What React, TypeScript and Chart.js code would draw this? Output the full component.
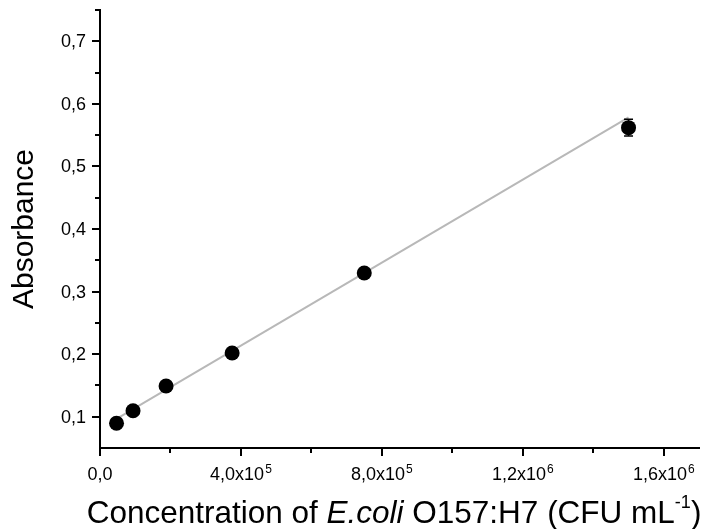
import React, { useEffect, useRef } from 'react';
import { Chart, registerables } from 'chart.js';

Chart.register(...registerables);

// ---- data ----
const concentrations = [46875, 93750, 187500, 375000, 750000, 1500000];
const absorbance = [0.0895, 0.1096, 0.149, 0.2018, 0.3297, 0.562];
const absorbanceErr = [0.004, 0.004, 0.005, 0.005, 0.006, 0.0135];

const fitX = [46875, 1500000];
const fitY = [0.0964, 0.5785];

const xMajorTicks = [0, 400000, 800000, 1200000, 1600000];
const xMinorTicks = [200000, 600000, 1000000, 1400000];
const xTickMantissa = ['0,0', '4,0x10', '8,0x10', '1,2x10', '1,6x10'];
const xTickExponent = ['', '5', '5', '6', '6'];

const yMajorTicks = [0.1, 0.2, 0.3, 0.4, 0.5, 0.6, 0.7];
const yMinorTicks = [0.15, 0.25, 0.35, 0.45, 0.55, 0.65, 0.75];
const yTickLabels = ['0,1', '0,2', '0,3', '0,4', '0,5', '0,6', '0,7'];

const yTitle = 'Absorbance';
const xTitleParts = [
  { text: 'Concentration of ', italic: false, sup: false },
  { text: 'E.coli', italic: true, sup: false },
  { text: ' O157:H7 (CFU mL', italic: false, sup: false },
  { text: '-1', italic: false, sup: true },
  { text: ')', italic: false, sup: false },
];

const FONT = '"Liberation Sans", Arial, Helvetica, sans-serif';
const TEXT = '#000';

const decorations = {
  id: 'decorations',
  afterDatasetsDraw(chart: any) {
    const ctx = chart.ctx;
    const xs = chart.scales.x;
    const ys = chart.scales.y;
    ctx.save();
    ctx.strokeStyle = '#000';
    ctx.lineWidth = 1.5;
    concentrations.forEach((c, i) => {
      const px = xs.getPixelForValue(c);
      const top = ys.getPixelForValue(absorbance[i] + absorbanceErr[i]);
      const bot = ys.getPixelForValue(absorbance[i] - absorbanceErr[i]);
      ctx.beginPath();
      ctx.moveTo(px, top);
      ctx.lineTo(px, bot);
      ctx.moveTo(px - 4.5, top);
      ctx.lineTo(px + 4.5, top);
      ctx.moveTo(px - 4.5, bot);
      ctx.lineTo(px + 4.5, bot);
      ctx.stroke();
    });
    ctx.restore();
  },
  afterDraw(chart: any) {
    const ctx = chart.ctx;
    const xs = chart.scales.x;
    const ys = chart.scales.y;
    const area = chart.chartArea;
    ctx.save();
    // minor ticks
    ctx.strokeStyle = '#000';
    ctx.lineWidth = 2;
    xMinorTicks.forEach((v) => {
      const px = Math.round(xs.getPixelForValue(v));
      ctx.beginPath();
      ctx.moveTo(px, area.bottom);
      ctx.lineTo(px, area.bottom + 5);
      ctx.stroke();
    });
    yMinorTicks.forEach((v) => {
      const py = Math.round(ys.getPixelForValue(v));
      ctx.beginPath();
      ctx.moveTo(area.left, py);
      ctx.lineTo(area.left - 5, py);
      ctx.stroke();
    });

    ctx.fillStyle = TEXT;
    // y tick labels
    ctx.font = `18px ${FONT}`;
    ctx.textAlign = 'right';
    ctx.textBaseline = 'middle';
    yMajorTicks.forEach((v, i) => {
      const py = ys.getPixelForValue(v);
      ctx.fillText(yTickLabels[i], area.left - 14, py + 1);
    });

    // x tick labels with superscript exponents
    ctx.textAlign = 'left';
    ctx.textBaseline = 'alphabetic';
    const baseY = area.bottom + 32;
    xMajorTicks.forEach((v, i) => {
      const px = xs.getPixelForValue(v);
      ctx.font = `18px ${FONT}`;
      const w1 = ctx.measureText(xTickMantissa[i]).width;
      ctx.font = `12px ${FONT}`;
      const w2 = xTickExponent[i] ? ctx.measureText(xTickExponent[i]).width + 1 : 0;
      const start = px - (w1 + w2) / 2;
      ctx.font = `18px ${FONT}`;
      ctx.fillText(xTickMantissa[i], start, baseY);
      if (xTickExponent[i]) {
        ctx.font = `12px ${FONT}`;
        ctx.fillText(xTickExponent[i], start + w1 + 1, baseY - 7);
      }
    });

    // y title
    ctx.save();
    ctx.font = `30px ${FONT}`;
    ctx.textAlign = 'center';
    ctx.textBaseline = 'middle';
    ctx.translate(25, (area.top + area.bottom) / 2);
    ctx.rotate(-Math.PI / 2);
    ctx.fillText(yTitle, 0, 0);
    ctx.restore();

    // x title (rich text)
    const fontFor = (p: any) =>
      `${p.italic ? 'italic ' : ''}${p.sup ? 18 : 31.5}px ${FONT}`;
    let total = 0;
    const widths = xTitleParts.map((p) => {
      ctx.font = fontFor(p);
      const w = ctx.measureText(p.text).width;
      total += w;
      return w;
    });
    let cx = 394 - total / 2;
    const titleBase = 523;
    ctx.textAlign = 'left';
    ctx.textBaseline = 'alphabetic';
    xTitleParts.forEach((p, i) => {
      ctx.font = fontFor(p);
      ctx.fillText(p.text, cx, p.sup ? titleBase - 15 : titleBase);
      cx += widths[i];
    });
    ctx.restore();
  },
};

export default function App() {
  const ref = useRef<HTMLCanvasElement>(null);
  useEffect(() => {
    if (!ref.current) return;
    const chart = new Chart(ref.current, {
      type: 'scatter',
      data: {
        datasets: [
          {
            type: 'line',
            data: fitX.map((x, i) => ({ x, y: fitY[i] })),
            borderColor: '#b8b8b8',
            borderWidth: 2,
            pointRadius: 0,
            fill: false,
            order: 2,
          } as any,
          {
            type: 'scatter',
            data: concentrations.map((x, i) => ({ x, y: absorbance[i] })),
            backgroundColor: '#000',
            borderColor: '#000',
            borderWidth: 0,
            pointRadius: 7.5,
            order: 1,
          },
        ],
      },
      options: {
        responsive: false,
        animation: false,
        devicePixelRatio: 1,
        layout: { padding: { left: 92, right: 9, top: 10, bottom: 73 } },
        plugins: { legend: { display: false }, tooltip: { enabled: false } },
        scales: {
          x: {
            type: 'linear',
            position: 'bottom',
            min: 0,
            max: 1700000,
            afterBuildTicks: (s: any) => {
              s.ticks = xMajorTicks.map((v) => ({ value: v }));
            },
            afterFit: (s: any) => {
              s.height = 8;
            },
            ticks: { display: false },
            grid: {
              drawOnChartArea: false,
              drawTicks: true,
              tickLength: 8,
              color: '#000',
              lineWidth: 2,
            },
            border: { color: '#000', width: 2 },
          },
          y: {
            type: 'linear',
            position: 'left',
            min: 0.05,
            max: 0.75,
            afterBuildTicks: (s: any) => {
              s.ticks = yMajorTicks.map((v) => ({ value: v }));
            },
            afterFit: (s: any) => {
              s.width = 8;
            },
            ticks: { display: false },
            grid: {
              drawOnChartArea: false,
              drawTicks: true,
              tickLength: 8,
              color: '#000',
              lineWidth: 2,
            },
            border: { color: '#000', width: 2 },
          },
        },
      } as any,
      plugins: [decorations],
    });
    return () => chart.destroy();
  }, []);
  return (
    <div style={{ position: 'fixed', left: 0, top: 0, width: 708, height: 529, background: '#fff' }}>
      <canvas ref={ref} width={708} height={529} style={{ display: 'block' }} />
    </div>
  );
}
